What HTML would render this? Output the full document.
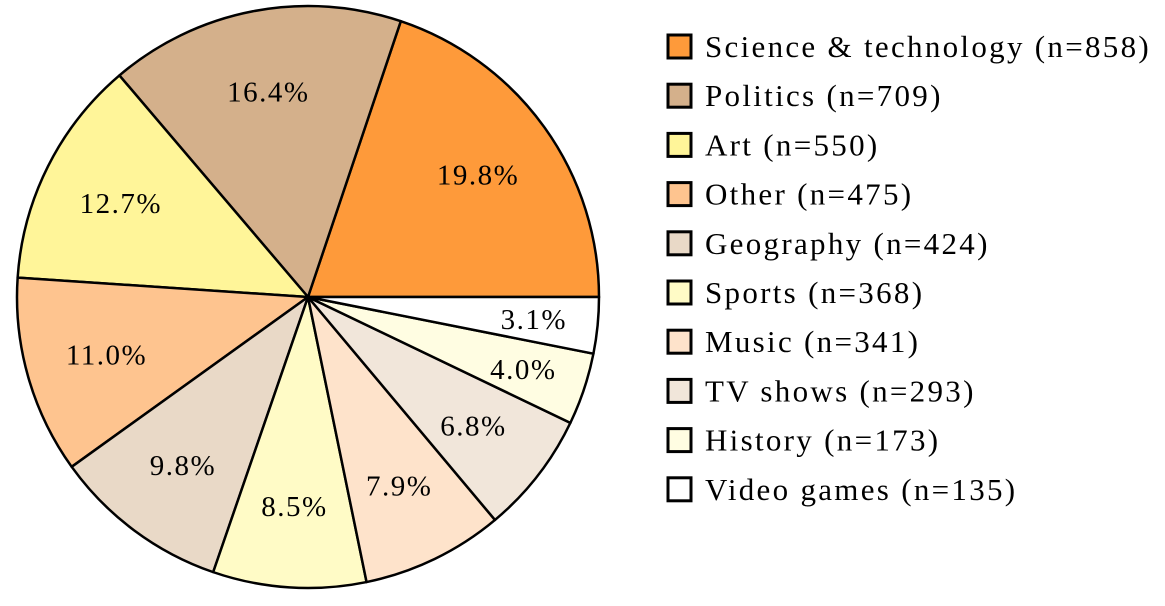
<!DOCTYPE html>
<html><head><meta charset="utf-8"><style>
html,body{margin:0;padding:0;background:#fff;}
svg{display:block;font-family:"Liberation Serif",serif;}
</style></head><body>
<svg id="chart" width="1165" height="606" viewBox="0 0 1165 606">
<g id="slices"></g>
<g id="labels"></g>
<g id="legend"></g>
</svg>
<script>
const categories = ["Science & technology","Politics","Art","Other","Geography","Sports","Music","TV shows","History","Video games"];
const counts = [858,709,550,475,424,368,341,293,173,135];
const colors = ["#fe9a3a","#d4b08b","#fff599","#fec48f","#e9d9c7","#fffbc6","#fee3cb","#f1e6da","#fffde2","#ffffff"];
const NS="http://www.w3.org/2000/svg";
const cx=308, cy=297, r=291;
const total=counts.reduce((a,b)=>a+b,0);
const gS=document.getElementById('slices'), gL=document.getElementById('labels'), gG=document.getElementById('legend');
let a0=0;
counts.forEach((v,i)=>{
  const frac=v/total, a1=a0+frac*2*Math.PI;
  const x0=cx+r*Math.cos(a0), y0=cy-r*Math.sin(a0), x1=cx+r*Math.cos(a1), y1=cy-r*Math.sin(a1);
  const p=document.createElementNS(NS,'path');
  p.setAttribute('d',`M${cx},${cy} L${x0},${y0} A${r},${r} 0 ${frac>0.5?1:0} 0 ${x1},${y1} Z`);
  p.setAttribute('fill',colors[i]);p.setAttribute('stroke','#000');p.setAttribute('stroke-width','2.5');p.setAttribute('stroke-linejoin','round');
  
  
  gS.appendChild(p);
  const am=(a0+a1)/2, lr=r*(frac<0.05?0.78:0.72);
  const t=document.createElementNS(NS,'text');
  t.setAttribute('x',cx+lr*Math.cos(am));t.setAttribute('y',cy-lr*Math.sin(am)+10);
  t.setAttribute('text-anchor','middle');t.setAttribute('font-size','29');t.setAttribute('letter-spacing','1.5');
  t.textContent=(frac*100).toFixed(1)+'%';
  
  
  gL.appendChild(t);
  const ly=46+i*49.2;
  const b=document.createElementNS(NS,'rect');
  b.setAttribute('x',668);b.setAttribute('y',ly-11);b.setAttribute('width',23);b.setAttribute('height',23);
  b.setAttribute('fill',colors[i]);b.setAttribute('stroke','#000');b.setAttribute('stroke-width','3');
  
  
  gG.appendChild(b);
  const lt=document.createElementNS(NS,'text');
  lt.setAttribute('x',705);lt.setAttribute('y',ly+11);lt.setAttribute('font-size','31');lt.setAttribute('letter-spacing','2.3');
  lt.textContent=categories[i]+' (n='+v+')';
  
  
  gG.appendChild(lt);
  a0=a1;
});
</script>
</body></html>
